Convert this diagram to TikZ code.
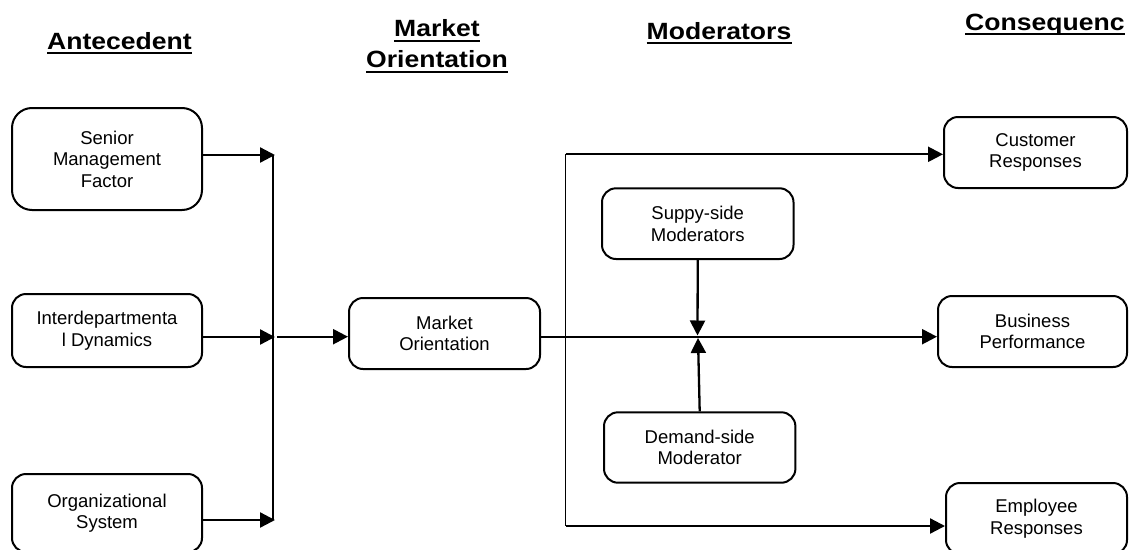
\documentclass[tikz,border=0pt]{standalone}
\usepackage{fontspec}
\setmainfont{Liberation Sans}
\usetikzlibrary{arrows.meta}
\begin{document}
\begin{tikzpicture}[x=1pt,y=-1pt,
  box/.style={draw, line width=2pt, rounded corners=14pt, inner sep=0pt,
    align=center, font=\fontsize{18.5}{21.5}\selectfont},
  head/.style={inner sep=0pt, anchor=base west,
    font=\fontsize{23.5}{28}\selectfont\bfseries},
  headline/.style={line width=2pt},
  link/.style={line width=2.3pt, -{Triangle[length=15pt,width=15pt]}},
  wire/.style={line width=1.6pt},
]
\useasboundingbox (0,0) rectangle (1129,549);

% column headings
\newcommand{\headtext}[1]{\scalebox{1.13}[1]{#1}}
\node[head] (hA) at (47,49) {\headtext{Antecedent}};
\node[head] (hO) at (366,67.7) {\headtext{Orientation}};
\node[head, anchor=base] (hM) at (hO.base |- 0,36.7) {\headtext{Market}};
\node[head] (hD) at (646.5,39.3) {\headtext{Moderators}};
\node[head] (hC) at (965,30) {\headtext{Consequenc}};
\foreach \h in {hA,hM,hO,hD,hC}
  \draw[headline] ([yshift=-4pt]\h.base west) -- ([yshift=-4pt]\h.base east);

% antecedents
\node[box, minimum width=190pt, minimum height=102pt, rounded corners=20pt] (sen) at (107,159) {Senior\\Management\\Factor};
\node[box, minimum width=190pt, minimum height=73pt] (inter) at (107,330.5) {Interdepartmenta\\l Dynamics};
\node[box, minimum width=190pt, minimum height=78pt] (org) at (107,513) {Organizational\\System};

% market orientation
\node[box, minimum width=191pt, minimum height=71pt] (mo) at (444.5,333.5) {Market\\Orientation};

% moderators
\node[box, minimum width=191.5pt, minimum height=70.7pt] (sup) at (697.75,223.65) {Suppy-side\\Moderators};
\node[box, minimum width=191.4pt, minimum height=70.4pt] (dem) at (699.7,447.5) {Demand-side\\Moderator};

% consequences
\node[box, minimum width=183pt, minimum height=71pt] (cust) at (1035.5,152.5) {Customer\\Responses};
\node[box, minimum width=189pt, minimum height=71pt] (bus) at (1032.5,331.5) {Business\\Performance};
\node[box, minimum width=181pt, minimum height=71pt] (emp) at (1036.5,518.5) {Employee\\Responses};

% junction points
\coordinate (ja) at (275,155);
\coordinate (jb) at (275,337);
\coordinate (jc) at (275,520);
\coordinate (sa) at (273,155);
\coordinate (sb) at (273,520);
\coordinate (jo) at (277,336.7);
\coordinate (mtop) at (697.5,335.5);
\coordinate (mbot) at (698,338);
\coordinate (ka) at (565.5,154.3);
\coordinate (kb) at (565.5,526);

% antecedents into market orientation
\draw[link] (sen.east |- ja) -- (ja);
\draw[link] (inter.east |- jb) -- (jb);
\draw[link] (org.east |- jc) -- (jc);
\draw[wire] (sa) -- (sb);
\draw[link] (jo) -- (mo.west |- jo);

% market orientation to consequences
\draw[link] (mo.east |- jo) -- (bus.west |- jo);
\draw[wire] (ka) -- (kb);
\draw[link] (ka) -- (cust.west |- ka);
\draw[link] (kb) -- (emp.west |- kb);

% moderating effects
\draw[link] (sup.south) -- (mtop);
\draw[link] (dem.north) -- (mbot);
\end{tikzpicture}
\end{document}
